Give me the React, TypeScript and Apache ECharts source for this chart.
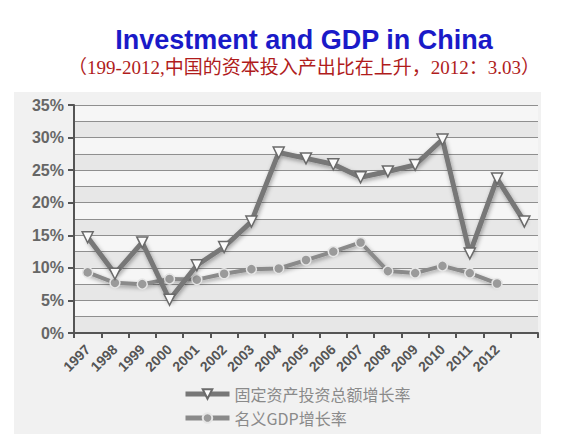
import React, { useEffect, useRef } from "react";
import * as echarts from "echarts";

const years = ["1997", "1998", "1999", "2000", "2001", "2002", "2003", "2004", "2005", "2006", "2007", "2008", "2009", "2010", "2011", "2012", ""];
const investment = [14.7, 9.1, 13.9, 5.1, 10.4, 13.2, 17.1, 27.7, 26.8, 25.9, 23.9, 24.8, 25.8, 29.7, 12.2, 23.7, 17.1];
const gdp: (number | null)[] = [9.3, 7.7, 7.5, 8.3, 8.2, 9.1, 9.8, 9.9, 11.2, 12.5, 13.9, 9.5, 9.2, 10.3, 9.2, 7.6, null];
const seriesNames = ["固定资产投资总额增长率", "名义GDP增长率"];
const titleText = "Investment and GDP in China";
const subtitleText = "（199-2012,中国的资本投入产出比在上升，2012：3.03）";

export default function App() {
  const ref = useRef<HTMLDivElement>(null);
  useEffect(() => {
    const chart = echarts.init(ref.current!, null, { renderer: "svg" });
    const shadow = { shadowBlur: 4, shadowColor: "rgba(0,0,0,0.35)", shadowOffsetX: 1, shadowOffsetY: 2 };
    chart.setOption({
      animation: false,
      backgroundColor: "#ffffff",
      graphic: [
        {
          type: "rect",
          z: -10,
          shape: { x: 14, y: 92, width: 527, height: 342 },
          style: { fill: "#f1f1f1" },
        },
        {
          type: "text",
          x: 304,
          y: 26,
          style: {
            text: titleText,
            fill: "#1a1ac8",
            align: "center",
            font: "bold 27px Arial, 'Liberation Sans', sans-serif",
          },
        },
        {
          type: "text",
          x: 304,
          y: 58,
          style: {
            text: subtitleText,
            fill: "#b01c1c",
            align: "center",
            font: "19px 'Liberation Serif', 'Noto Sans CJK SC', serif",
          },
        },
      ],
      grid: { left: 74, right: 32, top: 105, bottom: 111 },
      legend: {
        orient: "vertical",
        left: 178,
        top: 381,
        itemWidth: 44,
        itemHeight: 12,
        itemGap: 8,
        lineStyle: { width: 5 },
        textStyle: { color: "#8a8a8a", fontSize: 16, fontFamily: "'Noto Sans CJK SC', sans-serif" },
        data: seriesNames,
      },
      xAxis: {
        type: "category",
        data: years,
        boundaryGap: true,
        axisLine: { lineStyle: { color: "#555", width: 2 } },
        axisTick: { show: true, alignWithLabel: false, length: 5, lineStyle: { color: "#555", width: 2 } },
        axisLabel: {
          rotate: 45,
          interval: 0,
          color: "#555",
          fontWeight: "bold",
          fontSize: 14,
          fontFamily: "Arial, 'Liberation Sans', sans-serif",
          margin: 14,
        },
      },
      yAxis: [
        {
          type: "value",
          min: 0,
          max: 35,
          interval: 5,
          axisLine: { show: true, lineStyle: { color: "#555", width: 2 } },
          axisTick: { show: true, length: 6, lineStyle: { color: "#555", width: 2 } },
          axisLabel: {
            formatter: "{value}%",
            color: "#666",
            fontWeight: "bold",
            fontSize: 16,
            fontFamily: "Arial, 'Liberation Sans', sans-serif",
            margin: 10,
          },
          splitLine: { show: false },
          z: 3,
        },
        {
          type: "value",
          min: 0,
          max: 35,
          interval: 2.5,
          position: "left",
          axisLine: { show: false },
          axisTick: { show: false },
          axisLabel: { show: false },
          splitLine: { show: true, lineStyle: { color: "#8f8f8f", width: 1.2 } },
          splitArea: { show: true, areaStyle: { color: ["#e7e7e7", "#f6f6f6"] } },
        },
      ],
      series: [
        {
          name: seriesNames[0],
          type: "line",
          data: investment,
          symbol: "triangle",
          symbolRotate: 180,
          symbolSize: 11,
          lineStyle: { color: "#777", width: 5, ...shadow },
          itemStyle: { color: "#fafafa", borderColor: "#6a6a6a", borderWidth: 1.5 },
          z: 5,
        },
        {
          name: seriesNames[1],
          type: "line",
          data: gdp,
          symbol: "circle",
          symbolSize: 10,
          lineStyle: { color: "#8a8a8a", width: 4, ...shadow },
          itemStyle: { color: "#9a9a9a", borderColor: "#e6e6e6", borderWidth: 1.5 },
          z: 4,
        },
      ],
    });
    return () => chart.dispose();
  }, []);
  return <div ref={ref} style={{ width: 570, height: 444, position: "absolute", left: 0, top: 0 }} />;
}
